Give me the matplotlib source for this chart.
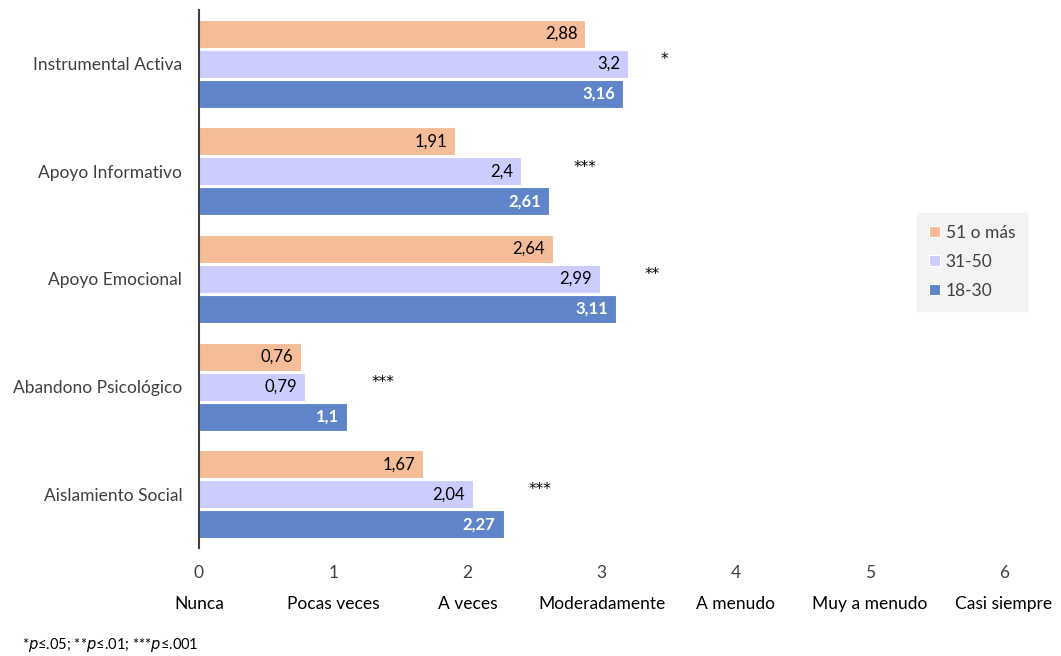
import matplotlib.pyplot as plt
import numpy as np

plt.rcParams['font.family'] = ['Lato', 'DejaVu Sans']

# escalas de afrontamiento (de abajo hacia arriba)
escalas = ["Aislamiento Social", "Abandono Psicológico", "Apoyo Emocional",
           "Apoyo Informativo", "Instrumental Activa"]
edad_51 = [1.67, 0.76, 2.64, 1.91, 2.88]
edad_31_50 = [2.04, 0.79, 2.99, 2.4, 3.2]
edad_18_30 = [2.27, 1.1, 3.11, 2.61, 3.16]
signif = ["***", "***", "**", "***", "*"]

frecuencias = [0, 1, 2, 3, 4, 5, 6]
etiquetas_frec = ["Nunca", "Pocas veces", "A veces", "Moderadamente",
                  "A menudo", "Muy a menudo", "Casi siempre"]

c_51 = "#F5BD97"
c_31 = "#CCCCFF"
c_18 = "#5F84C9"

fig = plt.figure(figsize=(10.61, 6.56), dpi=100)
ax = fig.add_axes([199 / 1061, 1 - 548 / 656, (1004 - 199) / 1061, 538 / 656])

y = np.arange(len(escalas))
h = 0.26
off = 0.278

def barras(vals, pos, color, txt_color, peso, nombre):
    bars = ax.barh(pos, vals, height=h, color=color, edgecolor="white",
                   linewidth=0.8, label=nombre)
    for b, v in zip(bars, vals):
        ax.text(v - 0.06, b.get_y() + h / 2, f"{v:g}".replace(".", ","),
                ha="right", va="center", fontsize=12, color=txt_color,
                fontweight=peso)
    return bars

barras(edad_51, y + off, c_51, "black", "normal", "51 o más")
barras(edad_31_50, y, c_31, "black", "normal", "31-50")
barras(edad_18_30, y - off, c_18, "white", "bold", "18-30")

# asteriscos de significación
for i, s in enumerate(signif):
    xm = max(edad_51[i], edad_31_50[i], edad_18_30[i])
    ax.text(xm + 0.27, y[i] + 0.04, s, ha="center", va="center",
            fontsize=11, color="black", family="DejaVu Sans")

ax.set_xlim(0, 6)
ax.set_ylim(-0.5, 4.5)
ax.set_yticks(y)
ax.set_yticklabels(escalas, fontsize=12.5, color="#404040")
ax.set_xticks(frecuencias)
ax.set_xticklabels([str(f) for f in frecuencias], fontsize=12.5, color="#404040")
ax.tick_params(axis="both", length=0)
ax.tick_params(axis="x", pad=12)
ax.tick_params(axis="y", pad=12)

for f, et in zip(frecuencias, etiquetas_frec):
    ax.text(f, -0.105, et, transform=ax.get_xaxis_transform(), ha="center",
            va="center", fontsize=12.5, color="black")

for lado in ["top", "right", "bottom"]:
    ax.spines[lado].set_visible(False)
ax.spines["left"].set_color("#404040")
ax.spines["left"].set_linewidth(1.5)

handles, labels = ax.get_legend_handles_labels()
leg = ax.legend(handles, labels, loc="center left",
                bbox_to_anchor=(917 / 1061, 1 - 262 / 656),
                bbox_transform=fig.transFigure, frameon=True, fancybox=False,
                fontsize=12.5, handlelength=0.6, handleheight=0.6,
                handletextpad=0.35, labelspacing=0.75, borderpad=0.7,
                borderaxespad=0)
leg.get_frame().set_facecolor("#F2F2F2")
leg.get_frame().set_edgecolor("#F2F2F2")
for t in leg.get_texts():
    t.set_color("#404040")

fig.text(22 / 1061, 1 - 645 / 656, r"*$p$≤.05; **$p$≤.01; ***$p$≤.001",
         fontsize=10.5, va="center", ha="left")

fig.savefig("out.png", dpi=100)
